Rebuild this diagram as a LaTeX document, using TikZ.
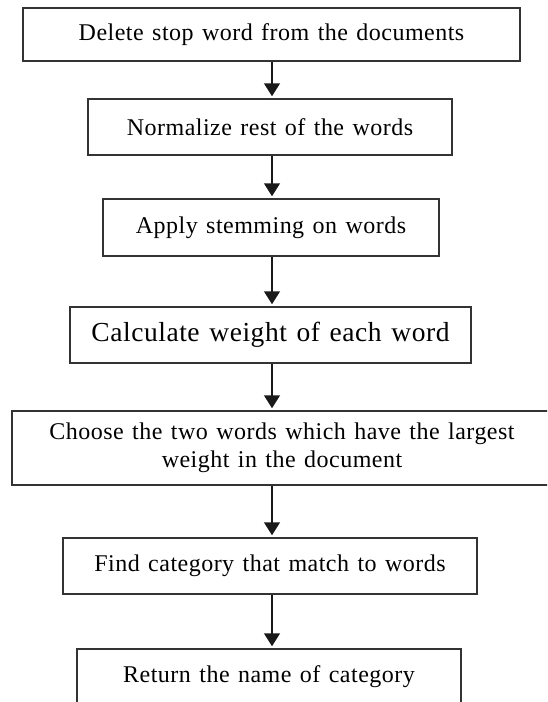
\documentclass[tikz,border=0pt]{standalone}
\usepackage{fontspec}
\setmainfont{Liberation Serif}[LetterSpace=2, WordSpace=1.3]
\usetikzlibrary{positioning, arrows.meta}

\tikzset{
  stepbox/.style={draw=black!80, line width=1.5pt, rectangle, minimum height=56pt,
    inner sep=0pt, align=center, font=\fontsize{24}{28}\selectfont},
  flow/.style={draw=black!90, line width=1.5pt,
    -{Triangle[length=13pt, width=16pt]}, shorten >=2pt}
}

\begin{document}
\begin{tikzpicture}[x=1pt, y=-1pt]
  \clip (0,0) rectangle (547,702);
  \coordinate (spine) at (272,0); % all arrows run down this line

  \node[stepbox, minimum width=497pt, minimum height=53pt] (s1) at (271.5,34.5) {Delete stop word from the documents};
  \node[stepbox, minimum width=364pt] (s2) at (270,127) {Normalize rest of the words};
  \node[stepbox, minimum width=336pt, minimum height=57pt] (s3) at (271,227.5) {Apply stemming on words};
  \node[stepbox, minimum width=401pt, font=\fontsize{27.5}{32}\selectfont] (s4) at (270.5,335) {Calculate weight of each word};
  \node[stepbox, minimum width=540pt, minimum height=74pt] (s5) at (282,448) {Choose the two words which have the largest\\weight in the document};
  \node[stepbox, minimum width=414pt] (s6) at (270,566) {Find category that match to words};
  \node[stepbox, minimum width=384pt] (s7) at (269,677) {Return the name of category};

  \foreach \i/\j in {1/2,2/3,3/4,4/5,5/6,6/7}
    \draw[flow] (s\i.south -| spine) -- (s\j.north -| spine);
\end{tikzpicture}
\end{document}
